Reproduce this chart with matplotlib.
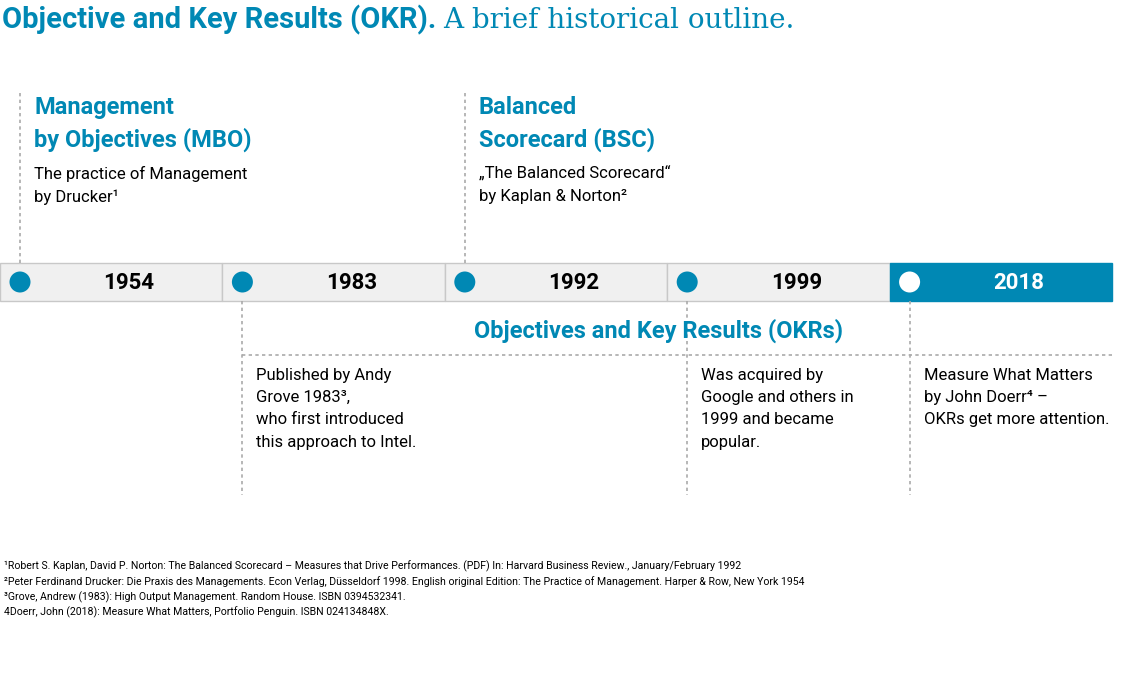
import matplotlib

matplotlib.use("Agg")
import matplotlib.pyplot as plt
from matplotlib.patches import Rectangle, Circle

plt.rcParams["font.family"] = ["Roboto", "DejaVu Sans"]

BLUE = "#0088b4"
GREY_BOX = "#f0f0f0"

years = ["1954", "1983", "1992", "1999", "2018"]
highlight = [False, False, False, False, True]

above_titles = ["Management\nby Objectives (MBO)", "Balanced\nScorecard (BSC)"]
above_texts = ["The practice of Management\nby Drucker¹", "„The Balanced Scorecard“\nby Kaplan & Norton²"]
above_index = [0, 2]

below_texts = [
    "Published by Andy\nGrove 1983³,\nwho first introduced\nthis approach to Intel.",
    "Was acquired by\nGoogle and others in\n1999 and became\npopular.",
    "Measure What Matters\nby John Doerr⁴ –\nOKRs get more attention.",
]
below_index = [1, 3, 4]

footnotes = [
    "¹Robert S. Kaplan, David P. Norton: The Balanced Scorecard – Measures that Drive Performances. (PDF) In: Harvard Business Review., January/February 1992",
    "²Peter Ferdinand Drucker: Die Praxis des Managements. Econ Verlag, Düsseldorf 1998. English original Edition: The Practice of Management. Harper & Row, New York 1954",
    "³Grove, Andrew (1983): High Output Management. Random House. ISBN 0394532341.",
    "4Doerr, John (2018): Measure What Matters, Portfolio Penguin. ISBN 024134848X.",
]

W, H = 1133, 684
fig = plt.figure(figsize=(W / 100, H / 100), dpi=100)
ax = fig.add_axes([0, 0, 1, 1])
ax.set_xlim(0, W)
ax.set_ylim(H, 0)
ax.axis("off")

# title
t = ax.text(2, 20, "Objective and Key Results (OKR).", color=BLUE, fontsize=21,
            fontweight="bold", va="center", ha="left")
fig.canvas.draw()
bb = t.get_window_extent()
ax.text(bb.x1 + 7, 20, "A brief historical outline.", color=BLUE, fontsize=20,
        va="center", ha="left", fontfamily="DejaVu Serif")

box_w = 222.4
top, bot = 263, 301
for i, (yr, hl) in enumerate(zip(years, highlight)):
    x0 = i * box_w
    ax.add_patch(Rectangle((x0, top), box_w, bot - top, facecolor=BLUE if hl else GREY_BOX,
                           edgecolor=BLUE if hl else "#c8c8c8", lw=1))
    cx = x0 + 20
    ax.add_patch(Circle((cx, 282), 10.5, facecolor="white" if hl else BLUE, edgecolor="none"))
    ax.text(x0 + box_w * 0.58, 283, yr, ha="center", va="center", fontsize=16,
            fontweight="bold", color="white" if hl else "black")

dash = dict(color="#aaaaaa", lw=1.2, ls=(0, (2, 2)))
for title, txt, i in zip(above_titles, above_texts, above_index):
    cx = i * box_w + 20
    ax.plot([cx, cx], [93, top], **dash)
    ax.text(cx + 14, 96, title, color=BLUE, fontsize=17, fontweight="bold", va="top",
            linespacing=1.45)
    ax.text(cx + 14, 166, txt, color="black", fontsize=12, va="top", linespacing=1.6)

ax.text(658, 331, "Objectives and Key Results (OKRs)", color=BLUE, fontsize=17,
        fontweight="bold", ha="center", va="center")
ax.plot([242, 1112], [355, 355], **dash)
for txt, i in zip(below_texts, below_index):
    cx = i * box_w + 20
    ax.plot([cx, cx], [bot, 495], **dash)
    ax.text(cx + 14, 368, txt, color="black", fontsize=12, va="top", linespacing=1.6)

for k, fn in enumerate(footnotes):
    ax.text(4, 566 + k * 15.5, fn, fontsize=7.6, va="center", color="black")

fig.savefig("out.png", dpi=100, facecolor="white")
